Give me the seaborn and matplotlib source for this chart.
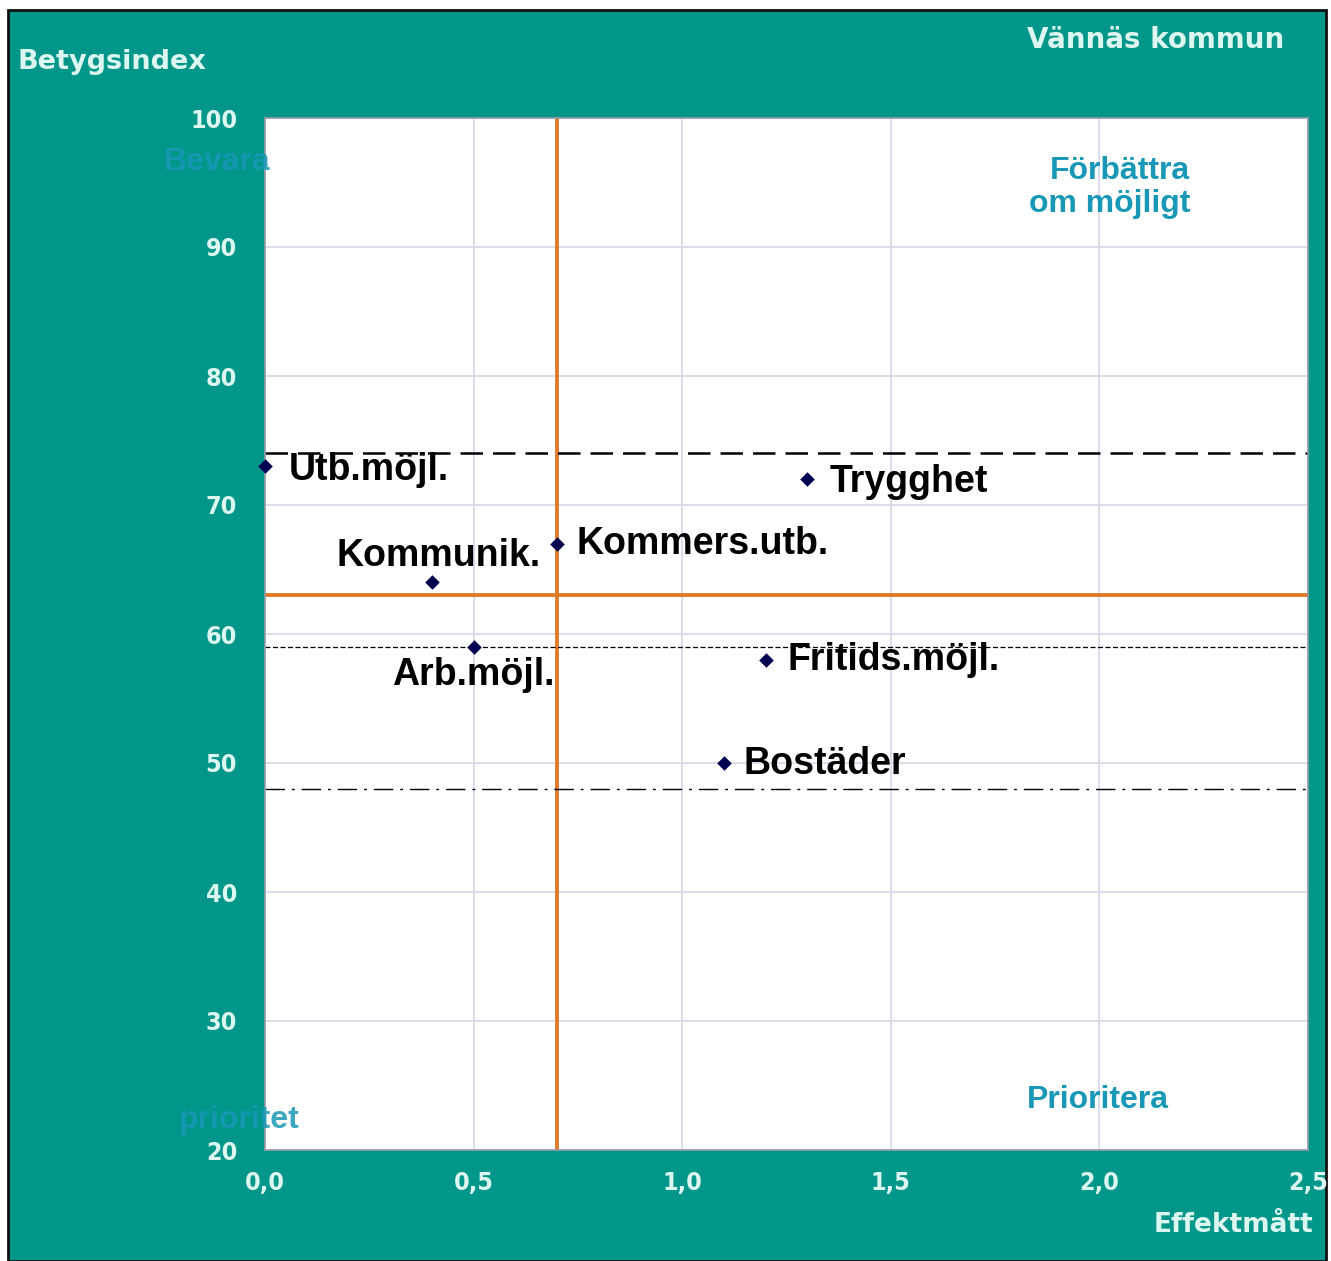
import matplotlib
matplotlib.use("Agg")
import matplotlib.pyplot as plt
from matplotlib.patches import Rectangle
import seaborn as sns
import pandas as pd

# Quality factors: effect measure (x) and grade index (y)
factors = ["Utb.möjl.", "Trygghet", "Kommers.utb.", "Kommunik.",
           "Arb.möjl.", "Fritids.möjl.", "Bostäder"]
effekt = [0.0, 1.3, 0.7, 0.4, 0.5, 1.2, 1.1]
betyg = [73, 72, 67, 64, 59, 58, 50]

# Reference lines
median_effekt = 0.7
median_betyg = 63
ref_high = 74
ref_mid = 59
ref_low = 48

x_ticks = [0.0, 0.5, 1.0, 1.5, 2.0, 2.5]
x_tick_labels = ["0,0", "0,5", "1,0", "1,5", "2,0", "2,5"]
y_ticks = [20, 30, 40, 50, 60, 70, 80, 90, 100]

df = pd.DataFrame({"factor": factors, "effekt": effekt, "betyg": betyg})

TEAL = "#00968a"
MINT = "#dcf7f0"
QUAD = "#1898b6"
ORANGE = "#e07a2b"
NAVY = "#000050"
GRID = "#d9d9ea"

W, H = 1331, 1261
fig = plt.figure(figsize=(W / 100, H / 100), dpi=100)
fig.patch.set_facecolor("white")
frame = Rectangle((8 / W, 0), (1326 - 8) / W, (H - 10) / H,
                  transform=fig.transFigure, facecolor=TEAL,
                  edgecolor="#111111", linewidth=2, zorder=-10)
fig.patches.append(frame)

ax = fig.add_axes([265 / W, (H - 1150) / H, (1308 - 265) / W, (1150 - 118) / H])
ax.set_zorder(1)
ax.set_facecolor("white")

ax.set_xlim(0, 2.5)
ax.set_ylim(20, 100)
ax.set_xticks(x_ticks)
ax.set_xticklabels(x_tick_labels)
ax.set_yticks(y_ticks)
ax.grid(True, color=GRID, linewidth=1.3)
ax.set_axisbelow(True)

for lab in ax.get_xticklabels() + ax.get_yticklabels():
    lab.set_fontfamily(["DejaVu Sans"])
    lab.set_fontstretch("condensed")
    lab.set_fontweight("bold")
    lab.set_fontsize(18)
    lab.set_color(MINT)
ax.tick_params(axis="y", length=0, pad=20)
ax.tick_params(axis="x", length=0, pad=15)

for side, sp in ax.spines.items():
    sp.set_color("#9a9aa8")
    sp.set_linewidth(1.2)

# Reference lines
ax.axvline(median_effekt, color=ORANGE, linewidth=2.8, zorder=2)
ax.axhline(median_betyg, color=ORANGE, linewidth=2.8, zorder=2)
ax.axhline(ref_high, color="black", linewidth=1.8, dashes=(9, 4), zorder=2)
ax.axhline(ref_mid, color="black", linewidth=0.9, dashes=(4, 2), zorder=2)
ax.axhline(ref_low, color="black", linewidth=1.0, dashes=(14, 5, 2, 5), zorder=2)

sns.scatterplot(data=df, x="effekt", y="betyg", marker="D", s=55,
                color=NAVY, edgecolor=NAVY, linewidth=0, zorder=4,
                clip_on=False, ax=ax, legend=False)
ax.set_xlabel("")
ax.set_ylabel("")

# Point labels: offsets (points) and alignment per factor
label_pos = {
    "Utb.möjl.": ((17, -3), "left", "center"),
    "Trygghet": ((16, -2), "left", "center"),
    "Kommers.utb.": ((14, 0), "left", "center"),
    "Kommunik.": ((5, 19), "center", "center"),
    "Arb.möjl.": ((0, -20), "center", "center"),
    "Fritids.möjl.": ((16, 0), "left", "center"),
    "Bostäder": ((14, -1), "left", "center"),
}
for name, xv, yv in zip(factors, effekt, betyg):
    (dx, dy), ha, va = label_pos[name]
    ax.annotate(name, (xv, yv), xytext=(dx, dy), textcoords="offset points",
                ha=ha, va=va, fontsize=27, fontweight="bold",
                family=["Liberation Sans", "DejaVu Sans"], color="black",
                zorder=5)

# Quadrant labels
qfont = dict(fontsize=23, fontweight="bold", family=["Liberation Sans", "DejaVu Sans"],
             color=QUAD, clip_on=False, zorder=5)
ax.text(0.012, 96.6, "Bevara", ha="right", va="center", alpha=0.85, **qfont)
ax.text(0.084, 22.3, "prioritet", ha="right", va="center", alpha=0.85, **qfont)
ax.text(2.218, 94.6, "Förbättra\nom möjligt", ha="right", va="center",
        multialignment="right", linespacing=1.15, **qfont)
ax.text(1.825, 23.9, "Prioritera", ha="left", va="center", **qfont)

# Titles on the teal frame
tfont = dict(fontweight="bold", family=["DejaVu Sans"], color=MINT)
fig.text(18 / W, 1 - 62 / H, "Betygsindex", ha="left", va="center", fontsize=19.5, **tfont)
fig.text(1284 / W, 1 - 40 / H, "Vännäs kommun", ha="right", va="center", fontsize=20, **tfont)
fig.text(1313 / W, 1 - 1225 / H, "Effektmått", ha="right", va="center", fontsize=19, **tfont)

fig.savefig("out.png", dpi=100, facecolor=fig.get_facecolor())
